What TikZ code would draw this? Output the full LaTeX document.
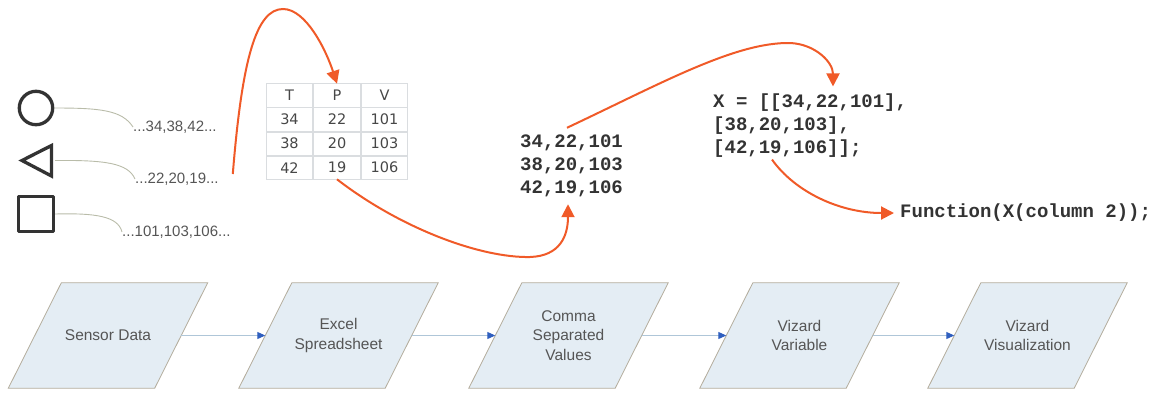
\documentclass[tikz,border=0pt]{standalone}
\usepackage{fontspec}
\setmainfont{Liberation Sans}
\newfontfamily\tablefont{DejaVu Sans}
\newfontfamily\codefont{Liberation Mono}
\usetikzlibrary{arrows.meta,matrix,backgrounds,calc}

\definecolor{ink}{HTML}{333333}
\definecolor{labelgray}{HTML}{555555}
\definecolor{leadgray}{HTML}{B9BCA9}
\definecolor{gridgray}{HTML}{DADDE0}
\definecolor{orng}{HTML}{F05A28}
\definecolor{parafill}{HTML}{E4EDF4}
\definecolor{paraedge}{HTML}{B3AC9C}
\definecolor{flowline}{HTML}{AFC6D8}
\definecolor{tipblue}{HTML}{2F5FBF}

\tikzset{
  glyph/.style={draw=ink, line width=3.3, inner sep=0, line join=round},
  lead/.style={draw=leadgray, line width=0.9},
  stream/.style={anchor=west, inner sep=0, text=labelgray, font=\fontsize{15}{18}\selectfont},
  code/.style={anchor=west, inner sep=0, align=left, text=ink, font=\codefont\bfseries\fontsize{19}{23}\selectfont},
  handoff/.style={draw=orng, line width=2, -{Triangle[length=13, width=13]}},
  stage/.style={minimum width=146, minimum height=105, inner sep=0, align=center,
    text=labelgray, font=\fontsize{15.5}{19.5}\selectfont},
  stageedge/.style={fill=parafill, draw=paraedge, line width=0.8},
  flowarrow/.style={draw=flowline, line width=1, -{Triangle[length=8, width=7, color=tipblue]}}
}

\begin{document}
\begin{tikzpicture}[x=1pt, y=-1pt]
\useasboundingbox (0,0) rectangle (1162,392);

% sensor symbols
\node[glyph, circle, minimum size=33.4] (circ) at (36,108) {};
\draw[glyph, line join=miter] (51.5,145.5) -- (22,160.5) -- (51.5,176) -- cycle;
\coordinate (tri) at (55,160.5);
\node[glyph, rectangle, minimum size=35] (sq) at (36,214) {};

% raw streams
\node[stream] (s1) at (133,127) {...34,38,42...};
\node[stream] (s2) at (135,179) {...22,20,19...};
\node[stream] (s3) at (122,232) {...101,103,106...};

\draw[lead] (circ.east) .. controls (100,108) and (122,110) .. (s1.west);
\draw[lead] (tri) .. controls (105,160) and (128,163) .. (s2.west);
\draw[lead] (sq.east) .. controls (95,213) and (118,216) .. (s3.west);

% spreadsheet
\matrix (tbl) [matrix of nodes, row sep=0, column sep=0,
  nodes={draw=gridgray, line width=0.8, outer sep=0, minimum width=46.7, minimum height=23.3,
    anchor=center, text=ink!90, font=\tablefont\fontsize{14.5}{16}\selectfont}]
  at (337,131.5) {
  T  & P  & V   \\
  34 & 22 & 101 \\
  38 & 20 & 103 \\
  42 & 19 & 106 \\
};

% comma separated values
\node[code] (csv) at (520,166) {34,22,101\\38,20,103\\42,19,106};

% vizard variable
\node[code] (xvar) at (713,125.5) {X = [[34,22,101],\\{}[38,20,103],\\{}[42,19,106]];};

% vizard visualization call
\node[code] (fn) at (900,213) {Function(X(column 2));};

% data hand-offs
\draw[handoff] ($(s2.east)+(14,-5)$) .. controls (242,60) and (256,9) .. (283,9)
  .. controls (306,9) and (326,50) .. (tbl-1-2.north);
\draw[handoff] (tbl-4-2.south) .. controls (400,228) and (480,258) .. (530,257)
  .. controls (560,256) and (568,236) .. ($(csv.south west)+(48,7)$);
\draw[handoff] ($(csv.north west)+(47,-7)$) .. controls (660,84) and (735,42) .. (790,43)
  .. controls (815,44) and (833,62) .. ($(xvar.north west)+(120,-7)$);
\draw[handoff, shorten >=6] ($(xvar.south west)+(59,2)$) .. controls (795,192) and (840,213) .. (fn.west);

% processing pipeline
\node[stage] (sd)   at (108,335.5)   {Sensor Data};
\node[stage] (xl)   at (338.5,335.5) {Excel\\Spreadsheet};
\node[stage] (cs)   at (568.5,335.5) {Comma\\Separated\\Values};
\node[stage] (vv)   at (799.5,335.5) {Vizard\\Variable};
\node[stage] (vz)   at (1027.5,335.5) {Vizard\\Visualization};

\begin{scope}[on background layer]
  \foreach \n in {sd,xl,cs,vv,vz}
    \draw[stageedge] ([xshift=26.5]\n.north west) -- ([xshift=26.5]\n.north east)
      -- ([xshift=-26.5]\n.south east) -- ([xshift=-26.5]\n.south west) -- cycle;
\end{scope}

\draw[flowarrow] (sd.east) -- (xl.west);
\draw[flowarrow] (xl.east) -- (cs.west);
\draw[flowarrow] (cs.east) -- (vv.west);
\draw[flowarrow] (vv.east) -- (vz.west);
\end{tikzpicture}
\end{document}
